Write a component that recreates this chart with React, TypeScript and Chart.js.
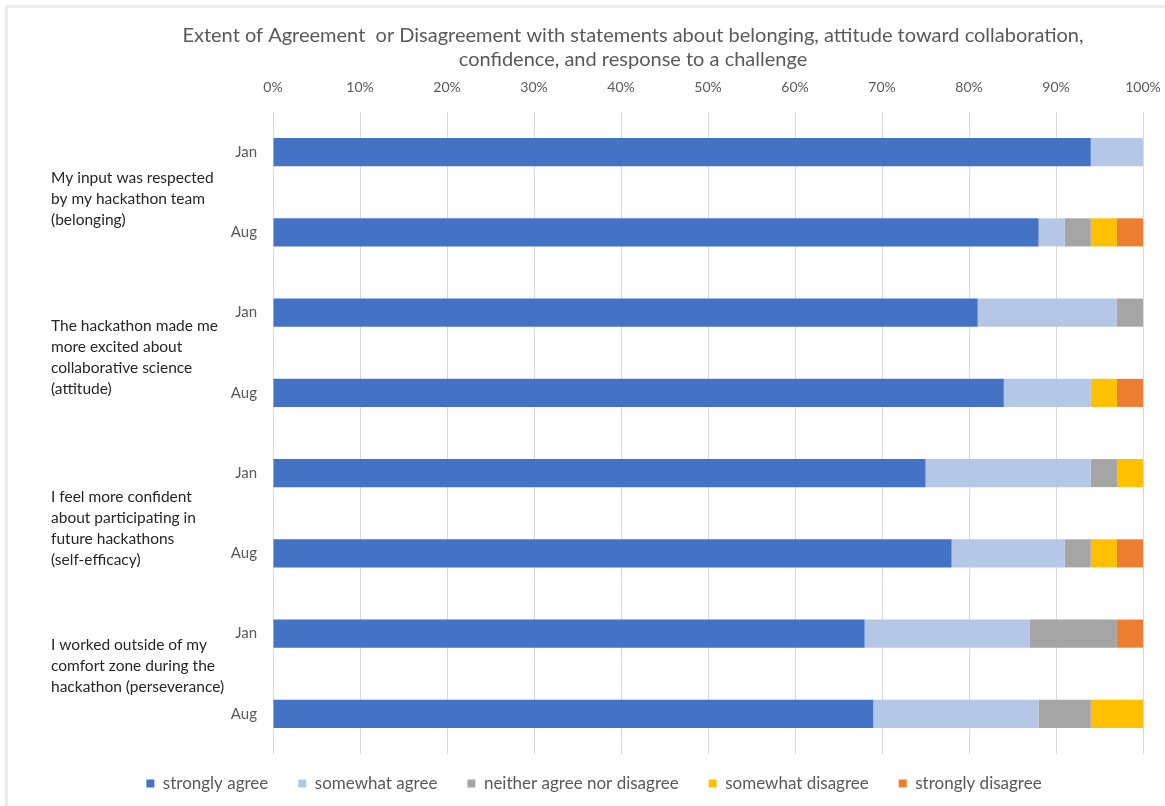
import React, { useEffect, useRef } from "react";
import { Chart, registerables } from "chart.js";

Chart.register(...registerables);

const categories = ["Jan", "Aug", "Jan", "Aug", "Jan", "Aug", "Jan", "Aug"];
const groupLabels = [
  ["My input was respected", "by my hackathon team", "(belonging)"],
  ["The hackathon made me", "more excited about", "collaborative science", "(attitude)"],
  ["I feel more confident", "about participating in", "future hackathons", "(self-efficacy)"],
  ["I worked outside of my", "comfort zone during the", "hackathon (perseverance)"],
];
const titleLines = [
  "Extent of Agreement  or Disagreement with statements about belonging, attitude toward collaboration,",
  "confidence, and response to a challenge",
];
const seriesNames = [
  "strongly agree",
  "somewhat agree",
  "neither agree nor disagree",
  "somewhat disagree",
  "strongly disagree",
];
const stronglyAgree = [94, 88, 81, 84, 75, 78, 68, 69];
const somewhatAgree = [6, 3, 16, 10, 19, 13, 19, 19];
const neither = [0, 3, 3, 0, 3, 3, 10, 6];
const somewhatDisagree = [0, 3, 0, 3, 3, 3, 0, 6];
const stronglyDisagree = [0, 3, 0, 3, 0, 3, 3, 0];
const xTicks = [0, 10, 20, 30, 40, 50, 60, 70, 80, 90, 100];

const colors = ["#4472C4", "#B4C7E7", "#A5A5A5", "#FFC000", "#ED7D31"];
const FONT = "Lato, 'Open Sans', sans-serif";
const groupOffsets = [7, 5, 15, -8];

export default function App() {
  const ref = useRef<HTMLCanvasElement | null>(null);

  useEffect(() => {
    if (!ref.current) return;
    const values = [stronglyAgree, somewhatAgree, neither, somewhatDisagree, stronglyDisagree];

    const textPlugin = {
      id: "texts",
      afterLayout(chart: any) {
        const lg = chart.legend;
        if (lg) {
          lg.top -= 9;
          lg.bottom -= 9;
        }
      },
      afterDraw(chart: any) {
        const ctx = chart.ctx;
        ctx.save();
        ctx.fillStyle = "#595959";
        ctx.font = `20px ${FONT}`;
        ctx.textAlign = "center";
        ctx.textBaseline = "middle";
        ctx.fillText(titleLines[0], 633, 36);
        ctx.fillText(titleLines[1], 633, 60);

        const y = chart.scales.y;
        ctx.fillStyle = "#262626";
        ctx.font = `15.5px ${FONT}`;
        ctx.textAlign = "left";
        groupLabels.forEach((lines, g) => {
          const c = (y.getPixelForValue(2 * g) + y.getPixelForValue(2 * g + 1)) / 2 + groupOffsets[g];
          const lh = 21;
          const start = c - ((lines.length - 1) * lh) / 2;
          lines.forEach((t, i) => ctx.fillText(t, 51, start + i * lh));
        });
        ctx.restore();
      },
    };

    const chart = new Chart(ref.current, {
      type: "bar",
      data: {
        labels: categories,
        datasets: seriesNames.map((name, i) => ({
          label: name,
          data: values[i],
          backgroundColor: colors[i],
          borderWidth: 0,
          barPercentage: 0.35,
          categoryPercentage: 1,
        })),
      },
      options: {
        indexAxis: "y",
        animation: false,
        responsive: false,
        maintainAspectRatio: false,
        layout: { padding: { left: 45, right: 22, top: 0, bottom: 0 } },
        scales: {
          x: {
            position: "top",
            stacked: true,
            min: 0,
            max: 100,
            afterBuildTicks: (s: any) => {
              s.ticks = xTicks.map((v) => ({ value: v }));
            },
            ticks: {
              callback: (v: any) => v + "%",
              color: "#595959",
              font: { family: FONT, size: 14 },
              padding: 16,
              maxRotation: 0,
            },
            grid: { color: "#d9d9d9", drawTicks: false, lineWidth: 1 },
            border: { display: false },
            afterFit: (s: any) => {
              s.height = 112;
              s.paddingLeft = 0;
              s.paddingRight = 0;
            },
          },
          y: {
            stacked: true,
            grid: { display: false, drawTicks: false },
            border: { display: false },
            ticks: {
              color: "#595959",
              font: { family: FONT, size: 15 },
              padding: 16,
            },
            afterFit: (s: any) => {
              s.width = 228;
            },
          },
        },
        plugins: {
          title: { display: false },
          tooltip: { enabled: false },
          legend: {
            position: "bottom",
            maxHeight: 52,
            labels: {
              boxWidth: 8,
              boxHeight: 8,
              padding: 30,
              color: "#595959",
              font: { family: FONT, size: 17 },
            },
          },
        },
      },
      plugins: [textPlugin],
    });
    return () => chart.destroy();
  }, []);

  return (
    <div style={{ position: "fixed", left: 0, top: 0, width: 1165, height: 806, background: "#fff" }}>
      <canvas ref={ref} width={1165} height={806} style={{ display: "block" }} />
      <div
        style={{
          position: "absolute",
          left: 5,
          top: 5,
          width: 1165,
          height: 806,
          borderLeft: "3px solid #ededed",
          borderTop: "3px solid #ededed",
          pointerEvents: "none",
        }}
      />
    </div>
  );
}
